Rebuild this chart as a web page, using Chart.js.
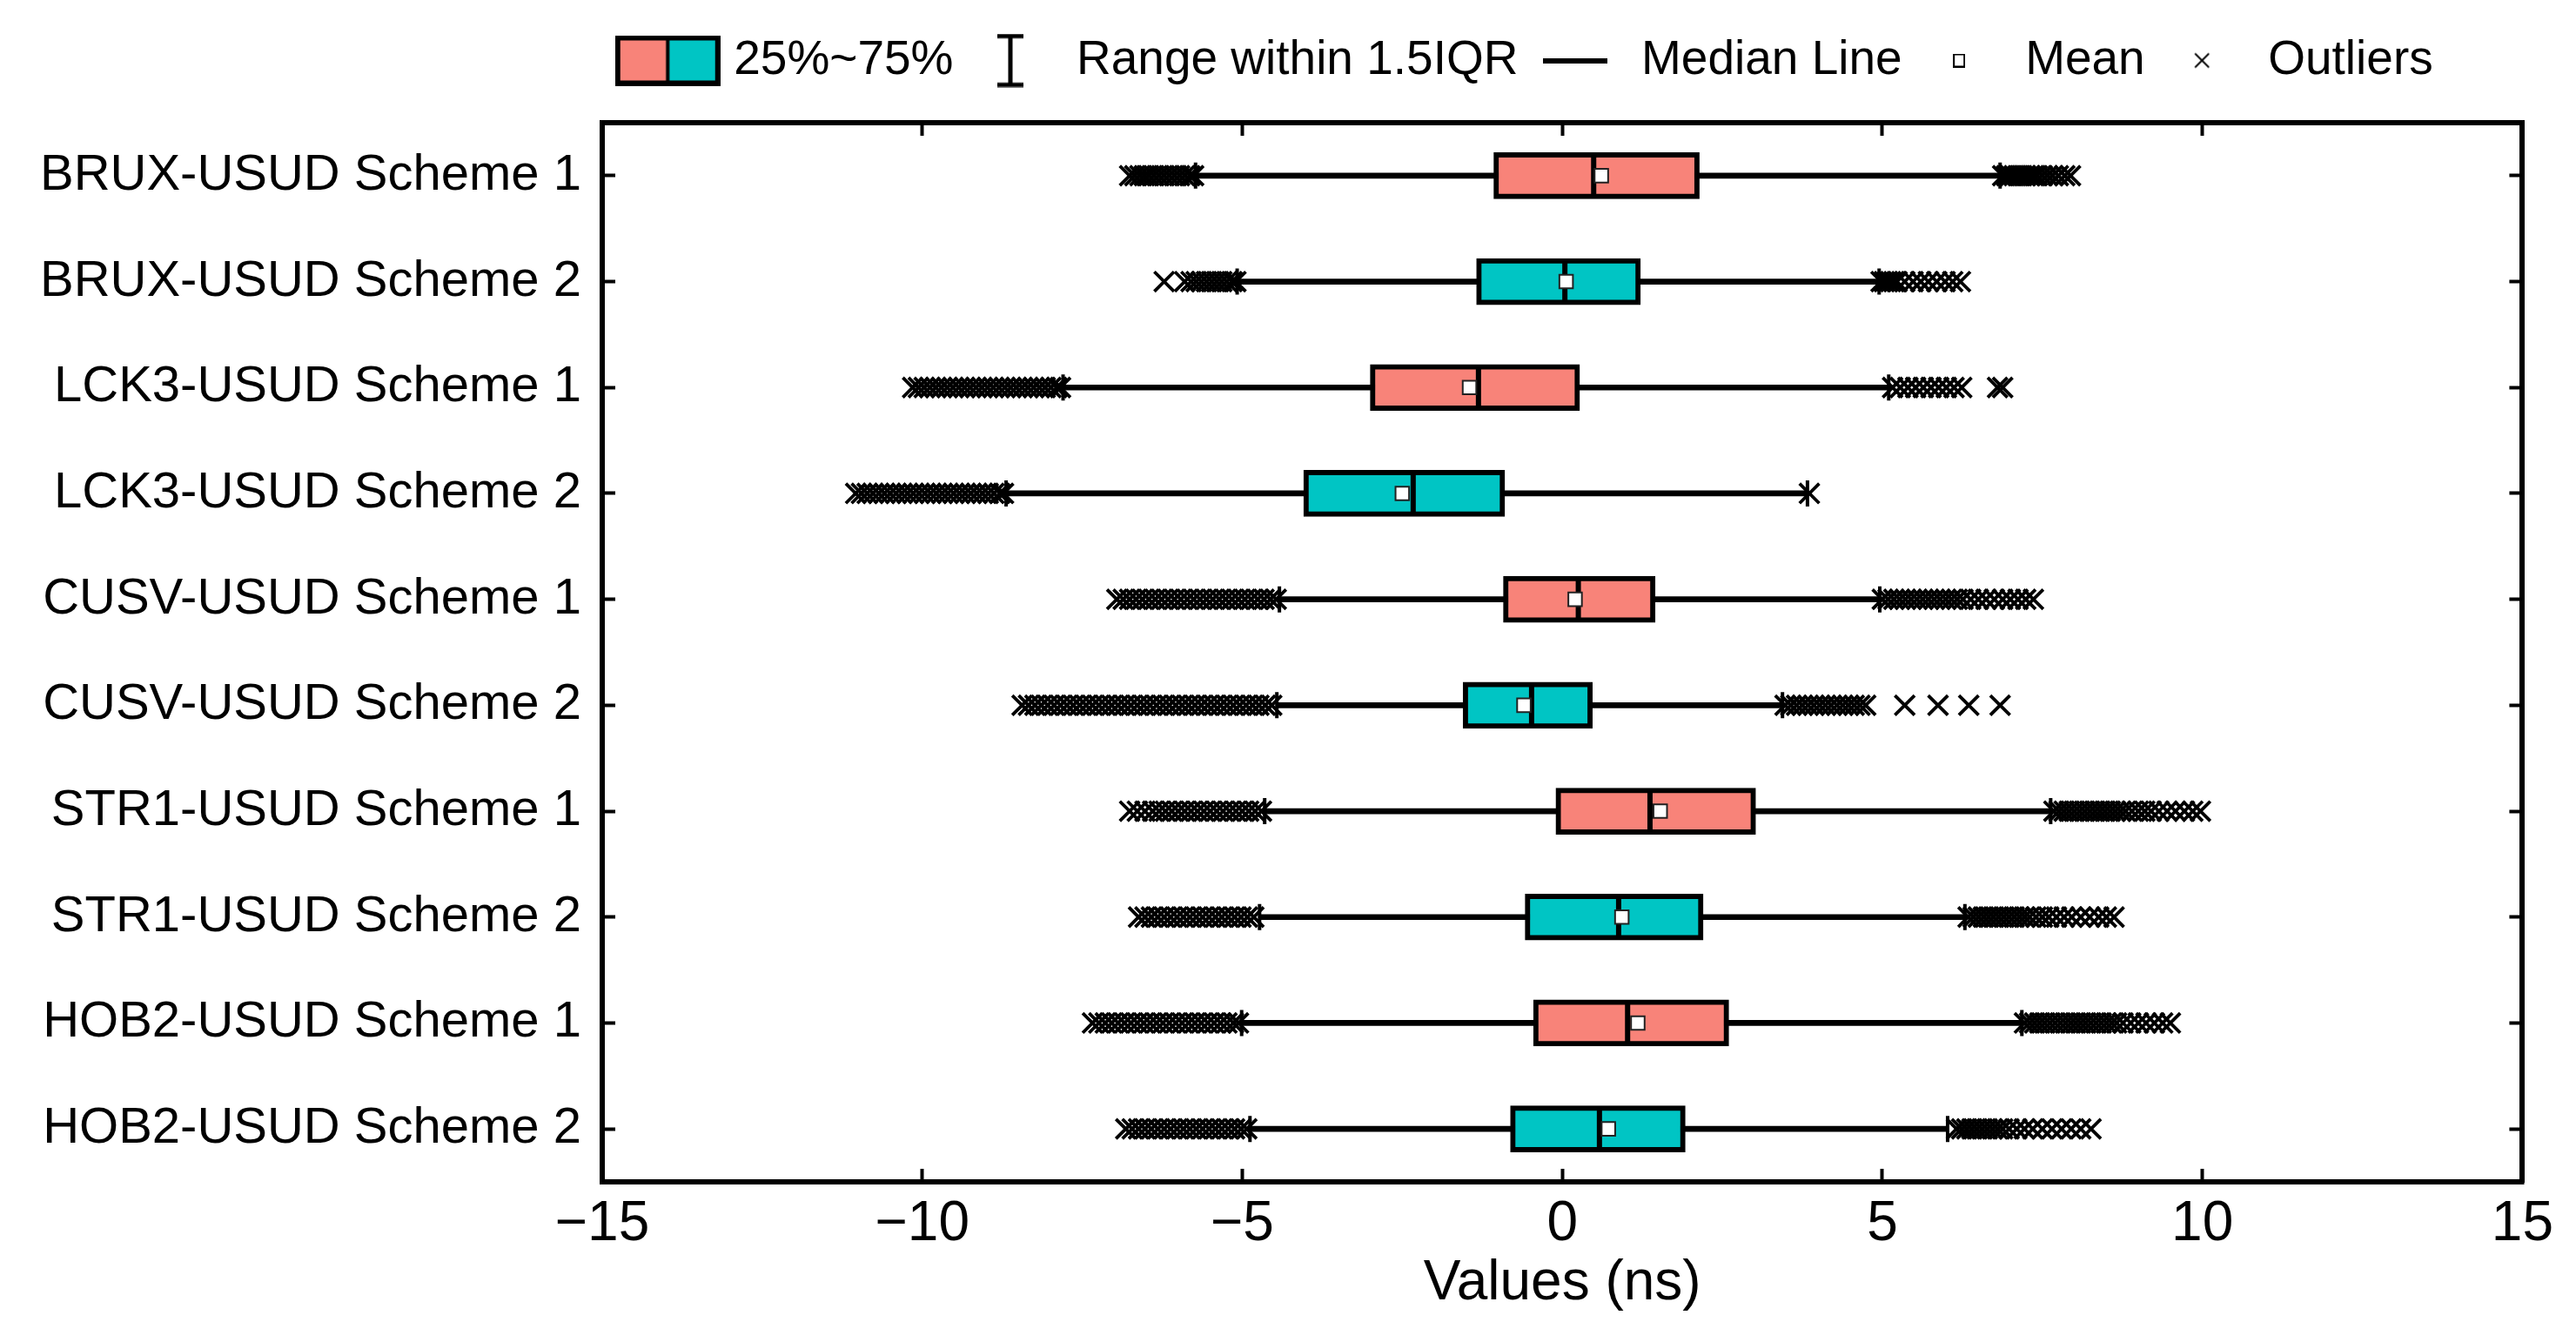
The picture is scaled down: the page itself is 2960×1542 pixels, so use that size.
<!DOCTYPE html>
<html>
<head>
<meta charset="utf-8">
<script src="https://cdn.jsdelivr.net/npm/chart.js@4.4.1/dist/chart.umd.min.js"></script>
<style>
    html, body { margin: 0; padding: 0; background: #ffffff; }
    #area_grafico { width: 2960px; height: 1542px; position: relative; }
</style>
</head>
<body>
<div id="area_grafico"><canvas id="grafico_boxplot"></canvas></div>
<script>
// dados (ns)
const categorias = [
    "BRUX-USUD Scheme 1", "BRUX-USUD Scheme 2",
    "LCK3-USUD Scheme 1", "LCK3-USUD Scheme 2",
    "CUSV-USUD Scheme 1", "CUSV-USUD Scheme 2",
    "STR1-USUD Scheme 1", "STR1-USUD Scheme 2",
    "HOB2-USUD Scheme 1", "HOB2-USUD Scheme 2"
];

const quartil1 = [-1.07, -1.34, -3.0, -4.04, -0.92, -1.55, -0.1, -0.58, -0.45, -0.81];
const mediana = [0.49, 0.04, -1.31, -2.33, 0.25, -0.48, 1.37, 0.88, 1.02, 0.58];
const quartil3 = [2.14, 1.22, 0.27, -0.9, 1.45, 0.47, 3.02, 2.2, 2.6, 1.92];
const media = [0.61, 0.06, -1.45, -2.5, 0.2, -0.6, 1.53, 0.93, 1.18, 0.72];
const bigodeMin = [-5.73, -5.08, -7.8, -8.69, -4.42, -4.46, -4.65, -4.73, -5.01, -4.88];
const bigodeMax = [6.84, 4.95, 5.1, 3.83, 4.96, 3.44, 7.63, 6.29, 7.18, 6.02];

const outliers = [
    [-6.76, -6.68, -6.6, -6.53, -6.46, -6.38, -6.3, -6.22, -6.14, -6.06, -5.98, -5.9, -5.82, -5.76,
        6.88, 6.94, 7.0, 7.06, 7.12, 7.18, 7.24, 7.3, 7.36, 7.42, 7.5, 7.58, 7.66, 7.75, 7.85, 7.94],
    [-6.22, -5.9, -5.8, -5.72, -5.64, -5.56, -5.48, -5.4, -5.32, -5.24, -5.16, -5.1,
        4.98, 5.03, 5.08, 5.13, 5.18, 5.23, 5.35, 5.48, 5.6, 5.72, 5.85, 5.98, 6.1, 6.22],
    [-10.15, -10.06, -9.97, -9.88, -9.79, -9.7, -9.61, -9.52, -9.43, -9.34, -9.25, -9.16, -9.07, -8.98,
        -8.89, -8.8, -8.71, -8.62, -8.53, -8.44, -8.35, -8.26, -8.17, -8.08, -7.99, -7.9, -7.84,
        5.16, 5.28, 5.4, 5.52, 5.64, 5.76, 5.88, 6.0, 6.12, 6.24, 6.8, 6.88],
    [-11.04, -10.95, -10.86, -10.77, -10.68, -10.59, -10.5, -10.41, -10.32, -10.23, -10.14, -10.05, -9.96, -9.87,
        -9.78, -9.69, -9.6, -9.51, -9.42, -9.33, -9.24, -9.15, -9.06, -8.97, -8.88, -8.79, -8.73,
        3.86],
    [-6.96, -6.86, -6.76, -6.66, -6.56, -6.46, -6.36, -6.26, -6.16, -6.06, -5.96, -5.86, -5.76, -5.66,
        -5.56, -5.46, -5.36, -5.26, -5.16, -5.06, -4.96, -4.86, -4.76, -4.66, -4.56, -4.47,
        5.0, 5.09, 5.18, 5.27, 5.36, 5.45, 5.54, 5.63, 5.72, 5.81, 5.9, 5.99, 6.08, 6.17, 6.26,
        6.38, 6.5, 6.62, 6.75, 6.88, 7.0, 7.12, 7.24, 7.36],
    [-8.44, -8.34, -8.24, -8.14, -8.04, -7.94, -7.84, -7.74, -7.64, -7.54, -7.44, -7.34, -7.24, -7.14,
        -7.04, -6.94, -6.84, -6.74, -6.64, -6.54, -6.44, -6.34, -6.24, -6.14, -6.04, -5.94, -5.84, -5.74,
        -5.64, -5.54, -5.44, -5.34, -5.24, -5.14, -5.04, -4.94, -4.84, -4.74, -4.64, -4.54,
        3.48, 3.57, 3.66, 3.75, 3.84, 3.93, 4.02, 4.11, 4.2, 4.29, 4.38, 4.47, 4.56, 4.65, 4.74,
        5.35, 5.87, 6.35, 6.84],
    [-6.76, -6.64, -6.52, -6.4, -6.3, -6.2, -6.1, -6.0, -5.9, -5.8, -5.7, -5.6, -5.5, -5.4,
        -5.3, -5.2, -5.1, -5.0, -4.9, -4.8, -4.7,
        7.68, 7.76, 7.84, 7.92, 8.0, 8.08, 8.16, 8.24, 8.32, 8.4, 8.48, 8.56, 8.64, 8.72, 8.8,
        8.9, 9.0, 9.1, 9.2, 9.32, 9.45, 9.58, 9.72, 9.85, 9.97],
    [-6.62, -6.52, -6.42, -6.32, -6.22, -6.12, -6.02, -5.92, -5.82, -5.72, -5.62, -5.52, -5.42, -5.32,
        -5.22, -5.12, -5.02, -4.92, -4.82,
        6.34, 6.42, 6.5, 6.58, 6.66, 6.74, 6.82, 6.9, 6.98, 7.06, 7.14, 7.22, 7.3, 7.4, 7.5, 7.6,
        7.72, 7.84, 7.96, 8.1, 8.24, 8.38, 8.5, 8.62],
    [-7.34, -7.24, -7.14, -7.04, -6.94, -6.84, -6.74, -6.64, -6.54, -6.44, -6.34, -6.24, -6.14, -6.04,
        -5.94, -5.84, -5.74, -5.64, -5.54, -5.44, -5.34, -5.24, -5.14, -5.06,
        7.22, 7.3, 7.38, 7.46, 7.54, 7.62, 7.7, 7.78, 7.86, 7.94, 8.02, 8.1, 8.18, 8.26, 8.34, 8.42,
        8.5, 8.58, 8.66, 8.76, 8.88, 9.0, 9.12, 9.25, 9.38, 9.5],
    [-6.82, -6.72, -6.62, -6.52, -6.42, -6.32, -6.22, -6.12, -6.02, -5.92, -5.82, -5.72, -5.62, -5.52,
        -5.42, -5.32, -5.22, -5.12, -5.02, -4.93,
        6.16, 6.24, 6.32, 6.4, 6.48, 6.56, 6.64, 6.72, 6.8, 6.88, 6.98, 7.1, 7.22, 7.35, 7.5, 7.65,
        7.8, 7.95, 8.1, 8.26]
];

const eixoMin = -15;
const eixoMax = 15;
const passoEixo = 5;

const textosLegenda = ["25%~75%", "Range within 1.5IQR", "Median Line", "Mean", "Outliers"];

const FONTE = "'Liberation Sans', Arial, sans-serif";
const corVermelha = "rgb(248, 131, 121)";
const corCiano = "rgb(0, 197, 196)";

function montarDados() {
    let caixas = [];
    let bigodes = [];
    let pontosMediana = [];
    let pontosMedia = [];
    let pontosLimite = [];
    let pontosOutlier = [];

    for (let i = 0; i < categorias.length; i++) {
        let cat = categorias[i];
        caixas.push([quartil1[i], quartil3[i]]);
        bigodes.push([bigodeMin[i], bigodeMax[i]]);
        pontosMediana.push({ x: mediana[i], y: cat });
        pontosMedia.push({ x: media[i], y: cat });
        pontosLimite.push({ x: bigodeMin[i], y: cat });
        pontosLimite.push({ x: bigodeMax[i], y: cat });
        for (let j = 0; j < outliers[i].length; j++) {
            pontosOutlier.push({ x: outliers[i][j], y: cat });
        }
    }

    return { caixas, bigodes, pontosMediana, pontosMedia, pontosLimite, pontosOutlier };
}

function criarIcone(largura, altura, desenhar) {
    let c = document.createElement("canvas");
    c.width = largura;
    c.height = altura;
    desenhar(c.getContext("2d"), largura, altura);
    return c;
}

function iconesLegenda() {
    let caixa = criarIcone(121, 58, function (ctx, w, h) {
        ctx.fillStyle = corVermelha;
        ctx.fillRect(0, 0, w / 2, h);
        ctx.fillStyle = corCiano;
        ctx.fillRect(w / 2, 0, w / 2, h);
        ctx.strokeStyle = "#000";
        ctx.lineWidth = 6;
        ctx.strokeRect(3, 3, w - 6, h - 6);
        ctx.lineWidth = 4;
        ctx.beginPath();
        ctx.moveTo(w / 2, 0);
        ctx.lineTo(w / 2, h);
        ctx.stroke();
    });

    let bigode = criarIcone(40, 62, function (ctx, w, h) {
        ctx.strokeStyle = "#000";
        ctx.lineWidth = 5;
        ctx.beginPath();
        ctx.moveTo(w / 2, 2);
        ctx.lineTo(w / 2, h - 2);
        ctx.moveTo(5, 3);
        ctx.lineTo(w - 5, 3);
        ctx.moveTo(5, h - 3);
        ctx.lineTo(w - 5, h - 3);
        ctx.stroke();
    });

    let linha = criarIcone(74, 6, function (ctx, w, h) {
        ctx.fillStyle = "#000";
        ctx.fillRect(0, 0, w, h);
    });

    let quadrado = criarIcone(14, 16, function (ctx, w, h) {
        ctx.fillStyle = "#fff";
        ctx.fillRect(0, 0, w, h);
        ctx.strokeStyle = "#000";
        ctx.lineWidth = 2;
        ctx.strokeRect(1, 1, w - 2, h - 2);
    });

    let xis = criarIcone(20, 20, function (ctx, w, h) {
        ctx.strokeStyle = "#000";
        ctx.lineWidth = 2;
        ctx.beginPath();
        ctx.moveTo(2, 2);
        ctx.lineTo(w - 2, h - 2);
        ctx.moveTo(w - 2, 2);
        ctx.lineTo(2, h - 2);
        ctx.stroke();
    });

    return [caixa, bigode, linha, quadrado, xis];
}

function formatarTick(valor) {
    if (valor < 0) {
        return "\u2212" + Math.abs(valor);
    }
    return "" + valor;
}

function gradeMarcas() {
    return {
        drawOnChartArea: false,
        drawTicks: true,
        tickLength: -15,
        tickWidth: 4,
        tickColor: "#000",
        offset: false
    };
}

function bordaEixo() {
    return { display: true, color: "#000", width: 6 };
}

// a legenda original fica um pouco à esquerda do centro da área do gráfico
const deslocarLegenda = {
    id: "deslocarLegenda",
    afterLayout: function (chart) {
        if (chart.legend) {
            chart.legend.left -= 38;
            chart.legend.right -= 38;
        }
    }
};

function criarGrafico() {
    let d = montarDados();
    let icones = iconesLegenda();
    let coresCaixa = categorias.map(function (c, i) {
        return i % 2 == 0 ? corVermelha : corCiano;
    });

    new Chart(document.getElementById("grafico_boxplot"), {
        type: "bar",
        plugins: [deslocarLegenda],
        data: {
            labels: categorias,
            datasets: [
                {
                    label: "Range within 1.5IQR",
                    data: d.bigodes,
                    backgroundColor: "#000",
                    borderWidth: 0,
                    barThickness: 6,
                    grouped: false,
                    order: 6
                },
                {
                    label: "25%~75%",
                    data: d.caixas,
                    backgroundColor: coresCaixa,
                    borderColor: "#000",
                    borderWidth: 6,
                    borderSkipped: false,
                    barThickness: 53,
                    grouped: false,
                    order: 5
                },
                {
                    type: "scatter",
                    label: "Limites",
                    data: d.pontosLimite,
                    pointStyle: "line",
                    pointRotation: 90,
                    pointRadius: 15,
                    pointBorderWidth: 4,
                    pointBorderColor: "#000",
                    order: 4
                },
                {
                    type: "scatter",
                    label: "Median Line",
                    data: d.pontosMediana,
                    pointStyle: "line",
                    pointRotation: 90,
                    pointRadius: 25,
                    pointBorderWidth: 6,
                    pointBorderColor: "#000",
                    order: 3
                },
                {
                    type: "scatter",
                    label: "Mean",
                    data: d.pontosMedia,
                    pointStyle: "rect",
                    pointRadius: 11,
                    pointBackgroundColor: "#fff",
                    pointBorderColor: "#222",
                    pointBorderWidth: 2,
                    order: 2
                },
                {
                    type: "scatter",
                    label: "Outliers",
                    data: d.pontosOutlier,
                    pointStyle: "crossRot",
                    pointRadius: 16,
                    pointBorderWidth: 3.8,
                    pointBorderColor: "#000",
                    order: 1
                }
            ]
        },
        options: {
            indexAxis: "y",
            responsive: true,
            maintainAspectRatio: false,
            animation: false,
            layout: {
                padding: { top: 25, left: 0, right: 0, bottom: 0 }
            },
            plugins: {
                tooltip: { enabled: false },
                legend: {
                    position: "top",
                    align: "center",
                    fullSize: false,
                    onClick: null,
                    labels: {
                        usePointStyle: true,
                        pointStyleWidth: 97,
                        padding: 17,
                        color: "#000",
                        font: { family: FONTE, size: 55 },
                        generateLabels: function () {
                            return textosLegenda.map(function (t, i) {
                                return {
                                    text: t,
                                    pointStyle: icones[i],
                                    fillStyle: "#000",
                                    strokeStyle: "#000",
                                    lineWidth: 0,
                                    hidden: false,
                                    fontColor: "#000"
                                };
                            });
                        }
                    }
                }
            },
            scales: {
                x: {
                    type: "linear",
                    position: "bottom",
                    min: eixoMin,
                    max: eixoMax,
                    ticks: {
                        stepSize: passoEixo,
                        color: "#000",
                        padding: 26,
                        font: { family: FONTE, size: 64 },
                        callback: formatarTick
                    },
                    grid: gradeMarcas(),
                    border: bordaEixo(),
                    title: {
                        display: true,
                        text: "Values (ns)",
                        color: "#000",
                        font: { family: FONTE, size: 64 },
                        padding: { top: 0, bottom: 28 }
                    },
                    afterFit: function (escala) { escala.height = 184; }
                },
                x2: {
                    type: "linear",
                    position: "top",
                    min: eixoMin,
                    max: eixoMax,
                    ticks: { stepSize: passoEixo, display: false },
                    grid: gradeMarcas(),
                    border: bordaEixo(),
                    afterFit: function (escala) { escala.height = 34; }
                },
                y: {
                    type: "category",
                    position: "left",
                    offset: true,
                    ticks: {
                        color: "#000",
                        padding: 39,
                        font: { family: FONTE, size: 58 }
                    },
                    grid: gradeMarcas(),
                    border: bordaEixo(),
                    afterFit: function (escala) { escala.width = 692; }
                },
                y2: {
                    type: "category",
                    position: "right",
                    offset: true,
                    ticks: { display: false },
                    grid: gradeMarcas(),
                    border: bordaEixo(),
                    afterFit: function (escala) { escala.width = 55; }
                }
            }
        }
    });
}

criarGrafico();
</script>
</body>
</html>
